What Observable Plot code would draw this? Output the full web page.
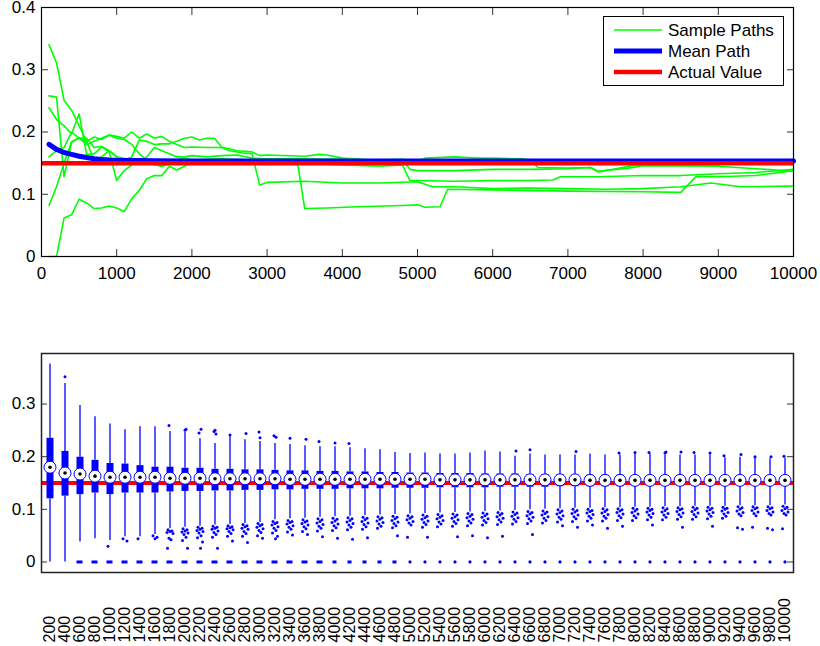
<!DOCTYPE html>
<html>
<head>
<meta charset="utf-8">
<script src="https://cdn.jsdelivr.net/npm/d3@7"></script>
<script src="https://cdn.jsdelivr.net/npm/@observablehq/plot@0.6"></script>
<style>
  body { margin: 0; background: #fff; font-family: "Liberation Sans", Arial, Helvetica, sans-serif; }
  #wrap { position: relative; width: 820px; height: 646px; overflow: hidden; }
  #wrap svg { display: block; }
  #legend { position: absolute; left: 603px; top: 16px; width: 179px; height: 68px; border: 1px solid #000; background: #fff; }
  #legend svg { display: block; }
</style>
</head>
<body>
<div id="wrap">
  <div id="top"></div>
  <div id="bottom"></div>
  <div id="legend"></div>
</div>
<script>
// ---------------- Top chart data ----------------
const actualValue = 0.15;
const topXTicks = [0, 1000, 2000, 3000, 4000, 5000, 6000, 7000, 8000, 9000, 10000];
const topYTicks = [0, 0.1, 0.2, 0.3, 0.4];

const xA = [100,200,300,400,500,600,700,800,900,1000,1100,1200,1300,1400,1500,1600,1700,1800,1900,2000,2100,2200,2300,2400,2500,2600,2700,2800,2900,3000,3500,4000,4500,5000,5200,5500,6000,6500,7000,7500,8000,8500,8900,9300,10000];
const yA = [.34,.311,.251,.235,.21,.185,.155,.16,.17,.16,.155,.16,.187,.185,.18,.181,.181,.185,.19,.192,.187,.19,.19,.175,.17,.168,.166,.165,.115,.119,.121,.118,.118,.12,.112,.112,.109,.11,.109,.108,.109,.112,.118,.112,.113];

const xB = [100,200,300,400,500,600,700,800,900,1000,1100,1200,1300,1400,1500,1600,1700,1800,1900,2000,2200,2400,2500,2600,2800,2900,3000,3500,3700,3800,4000,4400,4800,5000,5100,5500,5800,6000,6400,6500,6600,7000,7300,7400,7600,7900,8500,9000,9300,9600,10000];
const yB = [.258,.256,.128,.184,.19,.18,.185,.19,.195,.193,.19,.2,.19,.197,.19,.193,.185,.18,.175,.176,.175,.175,.173,.17,.168,.162,.163,.161,.164,.163,.158,.155,.156,.153,.158,.16,.158,.158,.157,.155,.143,.142,.143,.136,.14,.147,.147,.148,.150,.153,.153];

const xC = [100,200,300,400,500,600,700,800,900,1000,1100,1200,1300,1400,1500,1600,1700,1800,1900,2000,2200,2400,2600,2800,3000,3400,4000,4500,4800,4900,5000,5500,6000,6500,7000,7300,7400,7800,8000,9000,9500,10000];
const yC = [.239,.22,.21,.197,.229,.164,.165,.176,.168,.122,.138,.147,.155,.16,.175,.17,.165,.16,.16,.162,.16,.162,.163,.158,.157,.157,.156,.155,.155,.14,.138,.138,.140,.140,.141,.143,.137,.142,.146,.145,.141,.137];

const xD = [100,200,300,400,500,600,700,800,900,1000,1100,1200,1300,1400,1500,1600,1700,1800,1900,2000,2200,2400,2600,2800,3000,3500,4000,4500,4800,4900,5000,5500,6000,6500,6800,6900,7400,8000,8500,9000,9500,10000];
const yD = [.082,.112,.15,.184,.191,.185,.192,.188,.195,.19,.188,.18,.165,.155,.148,.145,.15,.155,.158,.155,.153,.152,.154,.15,.148,.15,.147,.145,.147,.122,.122,.121,.122,.122,.123,.128,.128,.13,.13,.133,.135,.14];

const xE = [100,200,300,400,500,600,700,800,900,1000,1100,1200,1300,1400,1500,1600,1700,1800,1900,2000,2200,2400,2600,2800,3000,3200,3400,3500,3800,4200,4800,5000,5100,5300,5400,6000,7000,8000,8500,8700,9000,9500,10000];
const yE = [0,0,.062,.067,.092,.086,.077,.078,.081,.078,.072,.093,.106,.125,.13,.13,.145,.139,.145,.151,.152,.153,.155,.152,.155,.157,.155,.077,.078,.08,.082,.083,.079,.08,.108,.107,.105,.104,.103,.128,.128,.13,.138];

const xF = [100,200,300,400,500,600,700,800,900,1000,1200,1400,1600,1800,2000,2400,2800,3000,4000,5000,5500,6500,7000,8000,9000,10000];
const yF = [.16,.17,.175,.2,.19,.19,.175,.177,.17,.16,.155,.15,.145,.152,.155,.157,.155,.152,.154,.155,.152,.155,.152,.152,.154,.155];

const meanX = [100,200,300,400,500,600,700,800,900,1000,1500,2000,3000,10000];
const meanY = [.180,.172,.167,.164,.161,.159,.157,.156,.155,.1545,.154,.1535,.1535,.1535];

// ---------------- Bottom chart data ----------------
const cats = [200,400,600,800,1000,1200,1400,1600,1800,2000,2200,2400,2600,2800,3000,3200,3400,3600,3800,4000,4200,4400,4600,4800,5000,5200,5400,5600,5800,6000,6200,6400,6600,6800,7000,7200,7400,7600,7800,8000,8200,8400,8600,8800,9000,9200,9400,9600,9800,10000];
const bottomYTicks = [0, 0.1, 0.2, 0.3];

const medianV = [.180,.169,.167,.163,.161,.161,.161,.161,.159,.159, .159,.158,.158,.158,.158,.158,.157,.157,.157,.157, .157,.157,.157,.157,.157,.157,.156,.156,.156,.156, .156,.156,.156,.156,.156,.156,.155,.155,.155,.155, .155,.155,.155,.155,.155,.155,.155,.155,.155,.155];
const q3V = [.235,.210,.199,.193,.187,.186,.183,.180,.180,.178, .178,.176,.176,.175,.175,.174,.173,.173,.172,.172, .171,.171,.170,.170,.169,.169,.168,.168,.168,.167, .167,.167,.166,.166,.166,.165,.165,.165,.165,.164, .164,.164,.164,.163,.163,.163,.163,.163,.162,.162];
const q1V = [.120,.125,.128,.131,.128,.131,.131,.131,.133,.134, .134,.135,.135,.136,.136,.137,.137,.138,.138,.138, .139,.139,.139,.140,.140,.140,.141,.141,.141,.141, .142,.142,.142,.142,.143,.143,.143,.143,.143,.144, .144,.144,.144,.144,.145,.145,.145,.145,.145,.145];
const hiV = [.376,.339,.297,.276,.262,.251,.257,.257,.248,.246, .234,.225,.238,.232,.229,.225,.223,.221,.219,.219, .217,.215,.213,.208,.206,.207,.205,.205,.207,.211, .209,.201,.205,.203,.203,.203,.205,.203,.203,.205, .205,.203,.203,.203,.203,.198,.199,.197,.196,.197];
const loV = [0,0,.038,.044,.041,.048,.048,.052,.063,.066, .068,.070,.071,.073,.075,.080,.082,.083,.085,.086, .087,.088,.089,.090,.091,.092,.093,.094,.095,.096, .097,.098,.099,.100,.101,.102,.102,.103,.103,.104, .104,.105,.105,.106,.106,.106,.107,.107,.107,.108];

const highOutliers = [[400,.352],[1800,.259],[2000,.252],[2000,.250],[2200,.252],[2200,.245],[2400,.250],[2400,.248],[2400,.243],[2600,.241],[2800,.244],[3000,.247],[3000,.236],[3200,.240],[3200,.237],[3400,.235],[3600,.233],[3800,.229],[4000,.226],[4200,.225],[6400,.211],[6600,.213],[7200,.210],[7800,.207],[8000,.208],[8200,.208],[8400,.209],[8400,.207],[8600,.209],[8800,.208],[9000,.207],[9200,.202],[9400,.204],[9600,.200],[9800,.200],[10000,.201]];

const lowOutliers = [
  [], [], [], [], [.030], [.044,.040], [.044], [.050,.047,.044],
  [.061,.059,.058,.056,.054,.045,.042,.026],
  [.063,.061,.059,.057,.055,.052,.047,.041,.026],
  [.066,.064,.062,.060,.058,.055,.050,.046,.038,.026],
  [.068,.066,.064,.062,.059,.056,.052,.047,.026],
  [.069,.067,.065,.063,.061,.058,.054,.049,.040],
  [.071,.069,.067,.064,.062,.058,.054,.049,.037],
  [.073,.071,.069,.066,.063,.060,.056,.050,.045],
  [.077,.075,.073,.070,.067,.064,.060,.055,.049,.044],
  [.079,.077,.075,.072,.069,.066,.062,.057,.051],
  [.080,.078,.076,.073,.070,.067,.063,.058,.052],
  [.082,.080,.077,.074,.071,.068,.064,.059,.048],
  [.083,.081,.078,.075,.072,.069,.065,.060,.045],
  [.084,.082,.079,.076,.073,.070,.066,.061,.043],
  [.085,.083,.080,.077,.074,.071,.067,.062,.046],
  [.086,.084,.081,.078,.075,.072,.068,.064],
  [.087,.085,.082,.079,.076,.073,.069,.065,.050],
  [.088,.086,.083,.080,.077,.074,.070,.047],
  [.089,.087,.084,.081,.078,.075,.071,.066,.047],
  [.090,.088,.085,.082,.079,.076,.072,.067],
  [.091,.089,.086,.083,.080,.077,.073,.068,.048],
  [.092,.090,.087,.084,.081,.078,.074,.069,.050],
  [.093,.091,.088,.085,.082,.079,.075,.070,.046],
  [.094,.092,.089,.086,.083,.080,.076,.071,.049],
  [.095,.093,.090,.087,.084,.081,.077,.072],
  [.096,.094,.091,.088,.085,.082,.078,.073,.052],
  [.097,.095,.092,.089,.086,.083,.079,.074],
  [.099,.097,.094,.091,.088,.085,.081,.076,.069],
  [.100,.098,.095,.092,.089,.086,.082,.077,.066],
  [.100,.098,.096,.093,.090,.087,.083,.078,.070],
  [.101,.099,.096,.093,.090,.087,.083,.078,.064],
  [.101,.099,.097,.094,.091,.088,.084,.079,.068],
  [.102,.100,.097,.094,.091,.088,.084,.079],
  [.102,.100,.098,.095,.092,.089,.085,.080,.070],
  [.103,.101,.098,.095,.092,.089,.085,.080],
  [.103,.101,.099,.096,.093,.090,.086,.081,.066],
  [.104,.102,.099,.096,.093,.090,.086,.081],
  [.104,.102,.099,.097,.094,.091,.087,.082,.068],
  [.104,.102,.100,.097,.094,.091,.087,.083],
  [.105,.103,.100,.097,.094,.091,.088,.065,.062],
  [.105,.103,.101,.098,.095,.092,.088,.066],
  [.105,.103,.101,.098,.095,.092,.089,.064,.061],
  [.106,.104,.101,.098,.095,.092,.089,.063]
];

const zeroCount = [0,0,14,14,15,15,15,15,16,16, 16,16,15,15,15,14,14,13,13,12, 12,11,10,9,2,1,2,1,1,2, 1,1,2,1,1,1,1,1,2,1, 1,2,1,1,1,1,2,1,1,1];

// ---------------- Build tables ----------------
const sampleRows = [];
[[xA, yA], [xB, yB], [xC, yC], [xD, yD], [xE, yE], [xF, yF]].forEach(([xs, ys], p) => {
  xs.forEach((x, i) => sampleRows.push({path: p, x, y: ys[i]}));
});
const meanRows = meanX.map((x, i) => ({x, y: meanY[i]}));

const boxRows = cats.map((c, i) => ({cat: c, med: medianV[i], q1: q1V[i], q3: q3V[i], lo: loV[i], hi: hiV[i]}));
const jitter = [-2, 2, 0, -3, 3, -1, 1, -2.5, 2.5, 0.5];
const outRows = [];
lowOutliers.forEach((vals, i) => vals.forEach((v, j) => outRows.push({cat: cats[i], v, slot: j % jitter.length})));
highOutliers.forEach(([c, v], j) => outRows.push({cat: c, v, slot: (j % 3) === 0 ? 2 : (j % 2 ? 5 : 6)}));
const zeroWide = cats.filter((c, i) => zeroCount[i] >= 13);
const zeroMid = cats.filter((c, i) => zeroCount[i] >= 5 && zeroCount[i] < 13);
const zeroDot = cats.filter((c, i) => zeroCount[i] > 0 && zeroCount[i] < 5);

const FONT = "Liberation Sans, Arial, Helvetica, sans-serif";
const empty = () => "";

// ---------------- Top plot ----------------
const topPlot = Plot.plot({
  width: 820, height: 300,
  marginLeft: 41, marginRight: 27, marginTop: 7, marginBottom: 44,
  style: {fontFamily: FONT, fontSize: "17px", background: "white", color: "black", overflow: "visible"},
  x: {domain: [0, 10000], label: null},
  y: {domain: [0, 0.4], label: null},
  marks: [
    Plot.line(sampleRows, {x: "x", y: "y", z: "path", stroke: "#00ff00", strokeWidth: 1.6}),
    Plot.line(meanRows, {x: "x", y: "y", stroke: "#0000ff", strokeWidth: 5}),
    Plot.ruleY([actualValue], {stroke: "#ff0000", strokeWidth: 4.5}),
    Plot.axisX({ticks: topXTicks, tickSize: 0, tickPadding: 10, tickFormat: d => String(d), label: null}),
    Plot.axisX({ticks: topXTicks, tickSize: 7, dy: -7, tickFormat: empty, label: null, stroke: "#333"}),
    Plot.axisX({anchor: "top", ticks: topXTicks, tickSize: 7, dy: 7, tickFormat: empty, label: null, stroke: "#333"}),
    Plot.axisY({ticks: topYTicks, tickSize: 0, tickPadding: 6, tickFormat: d => String(d), label: null}),
    Plot.axisY({ticks: topYTicks, tickSize: 7, dx: 7, tickFormat: empty, label: null, stroke: "#333"}),
    Plot.axisY({anchor: "right", ticks: topYTicks, tickSize: 7, dx: -7, tickFormat: empty, label: null, stroke: "#333"}),
    Plot.frame({stroke: "black", strokeWidth: 1.2})
  ]
});
document.getElementById("top").appendChild(topPlot);

// ---------------- Bottom plot ----------------
const bottomPlot = Plot.plot({
  width: 820, height: 346,
  marginLeft: 41, marginRight: 27, marginTop: 53, marginBottom: 74,
  style: {fontFamily: FONT, fontSize: "17px", background: "white", color: "black", overflow: "visible"},
  x: {type: "band", domain: cats, padding: 0, label: null, axis: null},
  y: {domain: [-0.02, 0.396], label: null},
  marks: [
    Plot.ruleY([actualValue], {stroke: "#ff0000", strokeWidth: 4}),
    Plot.ruleX(boxRows, {x: "cat", y1: "lo", y2: "q1", stroke: "#0000ff", strokeWidth: 1.3}),
    Plot.ruleX(boxRows, {x: "cat", y1: "q3", y2: "hi", stroke: "#0000ff", strokeWidth: 1.3}),
    Plot.ruleX(boxRows, {x: "cat", y1: "q1", y2: "q3", stroke: "#0000ff", strokeWidth: 7}),
    Plot.tickY(zeroWide, {x: d => d, y: () => 0, stroke: "#0000ff", strokeWidth: 3, insetLeft: 4.5, insetRight: 4.5}),
    Plot.tickY(zeroMid, {x: d => d, y: () => 0, stroke: "#0000ff", strokeWidth: 3, insetLeft: 5.5, insetRight: 5.5}),
    Plot.dot(zeroDot, {x: d => d, y: () => 0, r: 1.6, fill: "#0000ff"}),
    ...jitter.map((dx, s) => Plot.dot(outRows.filter(d => d.slot === s), {x: "cat", y: "v", r: 1.5, fill: "#0000ff", dx})),
    Plot.dot(boxRows, {x: "cat", y: "med", r: 6, fill: "white", stroke: "#0000ff", strokeWidth: 1}),
    Plot.dot(boxRows, {x: "cat", y: "med", r: 1.8, fill: "black"}),
    Plot.axisY({ticks: bottomYTicks, tickSize: 0, tickPadding: 6, tickFormat: d => String(d), label: null}),
    Plot.axisY({ticks: bottomYTicks, tickSize: 6, dx: 6, tickFormat: empty, label: null, stroke: "#333"}),
    Plot.axisY({anchor: "right", ticks: bottomYTicks, tickSize: 7, dx: -7, tickFormat: empty, label: null, stroke: "#333"}),
    Plot.text(cats, {x: d => d, frameAnchor: "bottom", dy: 70, rotate: -90, textAnchor: "start", lineAnchor: "middle", text: d => String(d), fontSize: 16, fill: "black"}),
    Plot.frame({stroke: "#222", strokeWidth: 1.5})
  ]
});
document.getElementById("bottom").appendChild(bottomPlot);

// ---------------- Legend ----------------
const legendItems = [
  {label: "Sample Paths", color: "#00ff00", width: 1.6},
  {label: "Mean Path", color: "#0000ff", width: 5},
  {label: "Actual Value", color: "#ff0000", width: 4.5}
];
const lsvg = d3.create("svg").attr("width", 179).attr("height", 68)
  .style("font-family", FONT).style("font-size", "17px");
legendItems.forEach((it, i) => {
  const y = 13 + i * 21;
  lsvg.append("line").attr("x1", 10).attr("x2", 58).attr("y1", y).attr("y2", y)
    .attr("stroke", it.color).attr("stroke-width", it.width);
  lsvg.append("text").attr("x", 64).attr("y", y).attr("dy", "0.35em").attr("fill", "black").text(it.label);
});
document.getElementById("legend").appendChild(lsvg.node());
</script>
</body>
</html>
